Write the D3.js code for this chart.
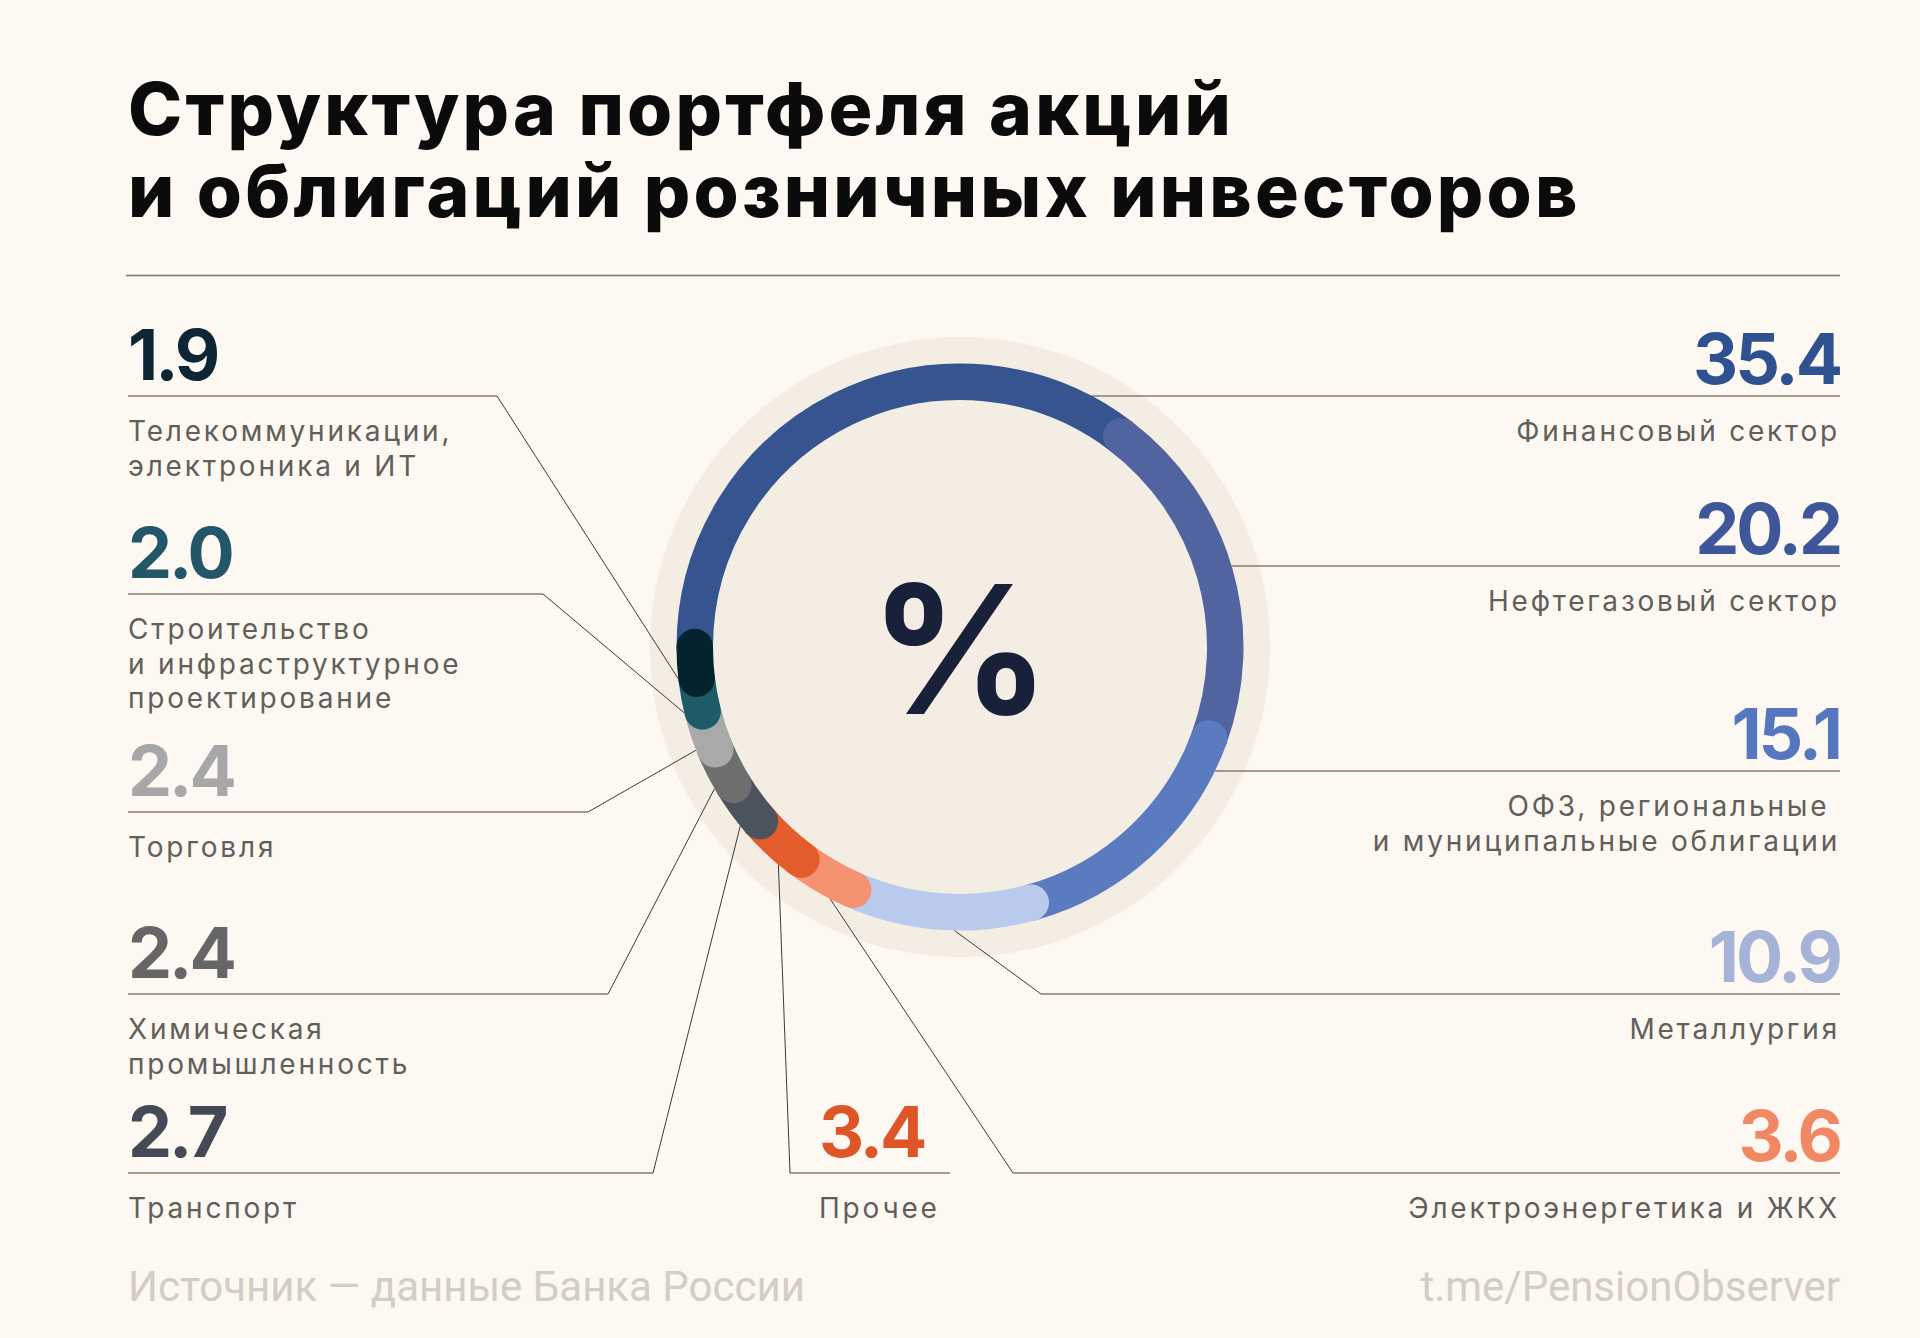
<!DOCTYPE html>
<html>
<head>
<meta charset="utf-8">
<script src="https://cdn.jsdelivr.net/npm/d3@7"></script>
<style>
  html, body { margin: 0; padding: 0; background: #fdf8f1; }
  svg { display: block; }
  text { white-space: pre; }
</style>
</head>
<body>
<div id="chart"></div>
<script>
// data (percent of portfolio), clockwise from 9 o'clock
const categories = [
  "Финансовый сектор", "Нефтегазовый сектор", "ОФЗ, региональные и муниципальные облигации",
  "Металлургия", "Электроэнергетика и ЖКХ", "Прочее", "Транспорт",
  "Химическая промышленность", "Торговля",
  "Строительство и инфраструктурное проектирование", "Телекоммуникации, электроника и ИТ"
];
const values = [35.4, 20.2, 15.1, 10.9, 3.6, 3.4, 2.7, 2.4, 2.4, 2.0, 1.9];
const valueLabels = ["35.4", "20.2", "15.1", "10.9", "3.6", "3.4", "2.7", "2.4", "2.4", "2.0", "1.9"];
const labelLines = [
  ["Финансовый сектор"],
  ["Нефтегазовый сектор"],
  ["ОФЗ, региональные ", "и муниципальные облигации"],
  ["Металлургия"],
  ["Электроэнергетика и ЖКХ"],
  ["Прочее"],
  ["Транспорт"],
  ["Химическая", "промышленность"],
  ["Торговля"],
  ["Строительство", "и инфраструктурное", "проектирование"],
  ["Телекоммуникации,", "электроника и ИТ"]
];
const ringColors = ["#36548f", "#52649f", "#5a7bbf", "#b9caec", "#f59272", "#e45d2c",
                    "#4b535f", "#6e6e6e", "#a9a9a9", "#1e5b69", "#03232d"];
const numberColors = ["#30518f", "#3e579b", "#5577c0", "#a4b3d6", "#f08864", "#de5528",
                      "#434955", "#666666", "#a7a7a7", "#225668", "#0d2535"];
const titleLines = ["Структура портфеля акций", "и облигаций розничных инвесторов"];
const sourceText = "Источник — данные Банка России";
const linkText = "t.me/PensionObserver";

// layout
const W = 1920, H = 1338;
const cx = 960, cy = 647;
const haloR = 310, ringOuter = 283.5, ringW = 36.5;
const rMid = ringOuter - ringW / 2;
const xL = 128, xR = 1840;

// where each label row sits: side, y of its rule, x of the rule's elbow
const layout = [
  { side: "R", y: 396, x0: null },
  { side: "R", y: 566, x0: null },
  { side: "R", y: 771, x0: null },
  { side: "R", y: 994, x0: 1041 },
  { side: "R", y: 1173, x0: 1013 },
  { side: "M", y: 1173, x0: 790, x1: 950 },
  { side: "L", y: 1173, x1: 653 },
  { side: "L", y: 994, x1: 608 },
  { side: "L", y: 812, x1: 588 },
  { side: "L", y: 594, x1: 543 },
  { side: "L", y: 396, x1: 497 }
];

const svg = d3.select("#chart").append("svg")
  .attr("width", W).attr("height", H);

svg.append("rect").attr("width", W).attr("height", H).attr("fill", "#fdf8f1");

// title
svg.append("g").selectAll("text")
  .data(titleLines)
  .enter().append("text")
  .attr("x", xL)
  .attr("y", (d, i) => 135 + i * 82)
  .style("font-family", "Inter, 'Noto Sans', sans-serif")
  .style("font-weight", 800)
  .style("font-size", "73px")
  .style("letter-spacing", "3.2px")
  .attr("fill", "#0b0b0b")
  .text(d => d);

svg.append("line")
  .attr("x1", 126).attr("x2", xR)
  .attr("y1", 275.5).attr("y2", 275.5)
  .attr("stroke", "#7d7468").attr("stroke-width", 1.5);

// halo behind the ring
svg.append("circle")
  .attr("cx", cx).attr("cy", cy).attr("r", haloR)
  .attr("fill", "#f3ede4");

const pie = d3.pie().sort(null).value(d => d)
  .startAngle(-Math.PI / 2).endAngle(3 * Math.PI / 2);
const arcs = pie(values);

const pt = (a, r) => [cx + r * Math.sin(a), cy - r * Math.cos(a)];

// leader lines (drawn under the ring)
const capShift = 3 * Math.PI / 180;
const leaders = svg.append("g");
arcs.forEach((a, i) => {
  const L = layout[i];
  const mid = (a.startAngle + a.endAngle) / 2 - capShift;
  const [px, py] = pt(mid, ringOuter);
  if (L.side === "R" && L.x0 === null) {
    const dx = Math.sqrt(ringOuter * ringOuter - (L.y - cy) * (L.y - cy));
    leaders.append("line")
      .attr("x1", cx + dx).attr("x2", xR).attr("y1", L.y).attr("y2", L.y)
      .attr("stroke", "#857c70").attr("stroke-width", 1.5);
    return;
  }
  let ex, hx1, hx2;
  if (L.side === "R") { ex = L.x0; hx1 = L.x0; hx2 = xR; }
  else if (L.side === "M") { ex = L.x0; hx1 = L.x0; hx2 = L.x1; }
  else { ex = L.x1; hx1 = xL; hx2 = L.x1; }
  leaders.append("line")
    .attr("x1", hx1).attr("x2", hx2).attr("y1", L.y).attr("y2", L.y)
    .attr("stroke", "#857c70").attr("stroke-width", 1.5);
  leaders.append("line")
    .attr("x1", ex).attr("y1", L.y).attr("x2", px).attr("y2", py)
    .attr("stroke", "#3c3a37").attr("stroke-width", 1);
});

// ring: each segment a thick arc with round caps, later ones on top
svg.append("g").selectAll("path")
  .data(arcs)
  .enter().append("path")
  .attr("d", a => {
    const p = d3.path();
    p.arc(cx, cy, rMid, a.startAngle - Math.PI / 2, a.endAngle - Math.PI / 2, false);
    return p.toString();
  })
  .attr("fill", "none")
  .attr("stroke", (a, i) => ringColors[i])
  .attr("stroke-width", ringW)
  .attr("stroke-linecap", "round");

// centre sign
svg.append("text")
  .attr("x", cx).attr("y", 714)
  .attr("text-anchor", "middle")
  .style("font-family", "Inter, 'Noto Sans', sans-serif")
  .style("font-weight", 700)
  .style("font-size", "178px")
  .attr("fill", "#18203a")
  .text("%");

// numbers and labels
const lab = svg.append("g");
layout.forEach((L, i) => {
  let x, anchor;
  if (L.side === "R") { x = xR; anchor = "end"; }
  else if (L.side === "M") { x = L.x0 + 29; anchor = "start"; }
  else { x = xL; anchor = "start"; }
  const numY = L.side === "R" ? L.y - 12.5 : L.y - 16;
  lab.append("text")
    .attr("x", x).attr("y", numY)
    .attr("text-anchor", anchor)
    .style("font-family", "Inter, 'Noto Sans', sans-serif")
    .style("font-weight", 700)
    .style("font-size", "70px")
    .style("letter-spacing", "-3px")
    .attr("fill", numberColors[i])
    .text(valueLabels[i]);
  labelLines[i].forEach((t, j) => {
    lab.append("text")
      .attr("x", x).attr("y", L.y + 45 + j * 34.5)
      .attr("text-anchor", anchor)
      .style("font-family", "Inter, 'Noto Sans', sans-serif")
      .style("font-size", "28px")
      .style("letter-spacing", "2.8px")
      .attr("fill", "#625e59")
      .text(t);
  });
});

// footer
svg.append("text")
  .attr("x", xL).attr("y", 1301)
  .style("font-family", "Roboto, sans-serif")
  .style("font-size", "42px")
  .attr("fill", "#d2cdc6")
  .text(sourceText);
svg.append("text")
  .attr("x", xR).attr("y", 1301)
  .attr("text-anchor", "end")
  .style("font-family", "Roboto, sans-serif")
  .style("font-size", "42px")
  .attr("fill", "#d2cdc6")
  .text(linkText);
</script>
</body>
</html>
